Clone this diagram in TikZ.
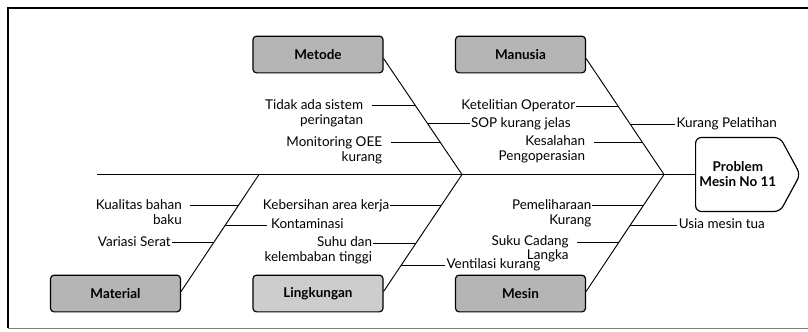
\documentclass[tikz,border=0pt]{standalone}
\usepackage{fontspec}
\setmainfont{Lato}
\usepackage{xcolor}
\usepackage{tikz}
\usetikzlibrary{positioning, calc, shapes.symbols}

\definecolor{catgrey}{HTML}{B5B5B5}
\definecolor{envgrey}{HTML}{CDCDCD}

\begin{document}
\begin{tikzpicture}[
    x=0.03cm, y=-0.03cm,
    catbox/.style={rectangle, draw, line width=1pt, rounded corners=3pt, minimum width=3.9cm, minimum height=1.1cm, fill=catgrey, font=\fontsize{11.5}{13}\selectfont\bfseries},
    headbox/.style={signal, signal to=east, signal pointer angle=123, draw, line width=1pt, rounded corners=5pt, minimum width=3.06cm, minimum height=2.22cm, align=center, font=\fontsize{11.5}{12.8}\selectfont\bfseries},
    lcause/.style={align=right, inner ysep=1pt, inner xsep=0.5pt, anchor=base east, font=\fontsize{11.5}{12.8}\selectfont},
    rcause/.style={align=left, inner ysep=1pt, inner xsep=1pt, anchor=base west, font=\fontsize{11.5}{12.8}\selectfont},
    gapped/.style={inner xsep=7pt},
    bone/.style={line width=0.8pt},
    twig/.style={line width=0.8pt}
]
\useasboundingbox (0,0) rectangle (808,331);

% Frame
\draw[line width=1.2pt] (808,8) -- (8,8) -- (8,328);
\draw[gray, line width=0.8pt] (8,328) -- (808,328);

% Head and spine
\coordinate (tail) at (97,174.5);
\node[headbox, anchor=west] (problem) at (695,174.5) {Problem\\Mesin No 11};
\coordinate (j1) at (259,174.5);
\coordinate (j2) at (462,174.5);
\coordinate (j3) at (664,174.5);
\draw[bone] (tail) -- (problem.west);

% Category boxes
\node[catbox] (metode) at (318,54.5) {Metode};
\node[catbox] (manusia) at (520.5,54.5) {Manusia};
\node[catbox] (material) at (115.5,293.5) {Material};
\node[catbox, fill=envgrey] (lingkungan) at (318,293.5) {Lingkungan};
\node[catbox] (mesin) at (520.5,293.5) {Mesin};

% Bones
\coordinate (bmet) at ($(metode.east)+(0,4)$);
\coordinate (bman) at ($(manusia.east)+(0,4)$);
\coordinate (bmat) at ($(material.east)+(0,-2)$);
\coordinate (bling) at ($(lingkungan.east)+(0,-2)$);
\coordinate (bmes) at ($(mesin.east)+(0,-2)$);
\draw[bone] (bmet) -- (j2);
\draw[bone] (bman) -- (j3);
\draw[bone] (bmat) -- (j1);
\draw[bone] (bling) -- (j2);
\draw[bone] (bmes) -- (j3);

% Metode causes
\coordinate (met1) at ($(bmet)!0.407!(j2)$);
\coordinate (met2) at ($(bmet)!0.562!(j2)$);
\coordinate (met3) at ($(bmet)!0.726!(j2)$);
\node[lcause, gapped] (tidak) at ($(met1)+(-44,18.5)$) {Tidak ada sistem\\peringatan};
\node[rcause] (sop) at ($(met2)+(42,3.5)$) {SOP kurang jelas};
\node[lcause, gapped] (monitoring) at ($(met3)+(-50,18.5)$) {Monitoring OEE\\kurang};
\draw[twig] (met1) -- (met1 -| tidak.base east);
\draw[twig] (met2) -- (met2 -| sop.base west);
\draw[twig] (met3) -- (met3 -| monitoring.base east);

% Manusia causes
\coordinate (man1) at ($(bman)!0.41!(j3)$);
\coordinate (man2) at ($(bman)!0.565!(j3)$);
\coordinate (man3) at ($(bman)!0.724!(j3)$);
\node[lcause] (ketelitian) at ($(man1)+(-42,3.5)$) {Ketelitian Operator};
\node[rcause] (pelatihan) at ($(man2)+(45,3.5)$) {Kurang Pelatihan};
\node[lcause, gapped] (kesalahan) at ($(man3)+(-49,18.5)$) {Kesalahan\\Pengoperasian};
\draw[twig] (man1) -- (man1 -| ketelitian.base east);
\draw[twig] (man2) -- (man2 -| pelatihan.base west);
\draw[twig] (man3) -- (man3 -| kesalahan.base east);

% Material causes
\coordinate (mat1) at ($(bmat)!0.733!(j1)$);
\coordinate (mat2) at ($(bmat)!0.568!(j1)$);
\coordinate (mat3) at ($(bmat)!0.417!(j1)$);
\node[lcause, gapped] (kualitas) at ($(mat1)+(-48,18.5)$) {Kualitas bahan\\baku};
\node[rcause, inner xsep=3pt] (kontaminasi) at ($(mat2)+(42,3.5)$) {Kontaminasi};
\node[lcause] (serat) at ($(mat3)+(-42,3.5)$) {Variasi Serat};
\draw[twig] (mat1) -- (mat1 -| kualitas.base east);
\draw[twig] (mat2) -- (mat2 -| kontaminasi.base west);
\draw[twig] (mat3) -- (mat3 -| serat.base east);

% Lingkungan causes
\coordinate (ling1) at ($(bling)!0.733!(j2)$);
\coordinate (ling2) at ($(bling)!0.412!(j2)$);
\coordinate (ling3) at ($(bling)!0.224!(j2)$);
\node[lcause] (kebersihan) at ($(ling1)+(-51,3.5)$) {Kebersihan area kerja};
\node[lcause] (suhu) at ($(ling2)+(-43,18.5)$) {Suhu dan\\kelembaban tinggi};
\node[rcause] (ventilasi) at ($(ling3)+(44,3.5)$) {Ventilasi kurang};
\draw[twig] (ling1) -- (ling1 -| kebersihan.base east);
\draw[twig] (ling2) -- (ling2 -| suhu.base east);
\draw[twig] (ling3) -- (ling3 -| ventilasi.base west);

% Mesin causes
\coordinate (mes1) at ($(bmes)!0.733!(j3)$);
\coordinate (mes2) at ($(bmes)!0.568!(j3)$);
\coordinate (mes3) at ($(bmes)!0.423!(j3)$);
\node[lcause] (pemeliharaan) at ($(mes1)+(-51,18.5)$) {Pemeliharaan\\Kurang};
\node[rcause] (usia) at ($(mes2)+(47,3.5)$) {Usia mesin tua};
\node[lcause, gapped, font=\fontsize{11.5}{12}\selectfont] (suku) at ($(mes3)+(-42,17.5)$) {Suku Cadang\\Langka};
\draw[twig] (mes1) -- (mes1 -| pemeliharaan.base east);
\draw[twig] (mes2) -- (mes2 -| usia.base west);
\draw[twig] (mes3) -- (mes3 -| suku.base east);

\end{tikzpicture}
\end{document}
